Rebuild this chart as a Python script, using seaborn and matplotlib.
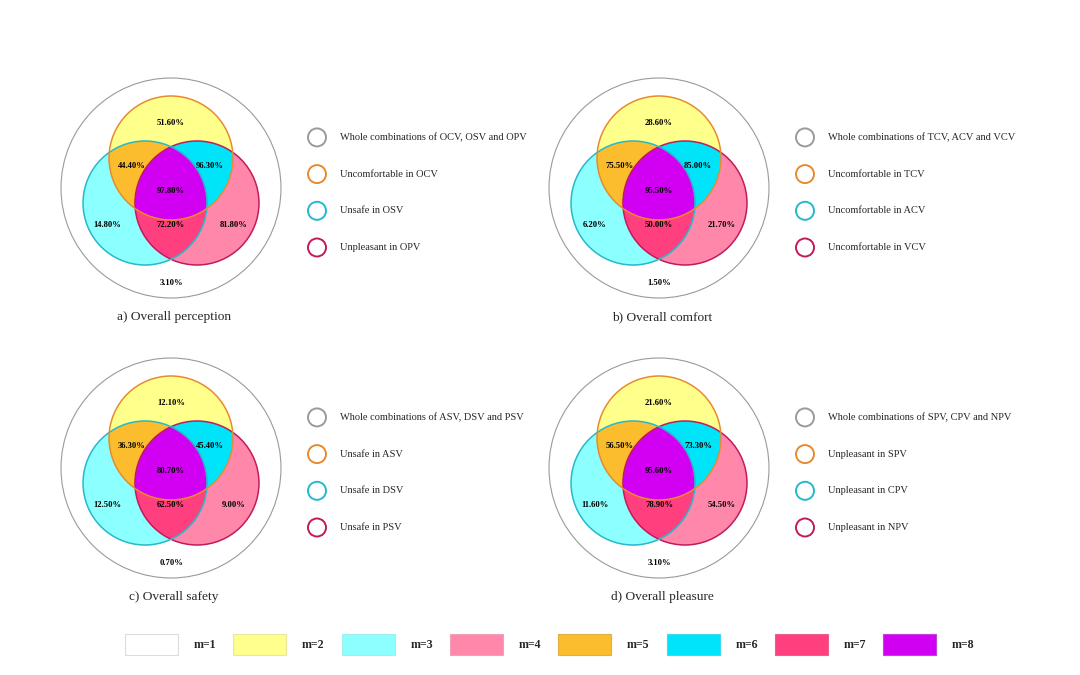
import numpy as np
import matplotlib
matplotlib.use('Agg')
import matplotlib.pyplot as plt
from matplotlib.patches import Circle, Polygon, Rectangle
import seaborn as sns

sns.set_theme(style="white")
plt.rcParams['font.family'] = ['Liberation Serif', 'DejaVu Serif']

# ---- data ----
panel_titles = ['a) Overall perception', 'b) Overall comfort',
                'c) Overall safety', 'd) Overall pleasure']

# region order: outside, top only, left only, right only,
#               top&left, top&right, left&right, all three
pct_a = [3.10, 51.60, 14.80, 81.80, 44.40, 96.30, 72.20, 97.80]
pct_b = [1.50, 28.60, 6.20, 21.70, 75.50, 85.00, 50.00, 95.50]
pct_c = [0.70, 12.10, 12.50, 9.00, 36.30, 45.40, 62.50, 80.70]
pct_d = [3.10, 21.60, 11.60, 54.50, 56.50, 73.30, 78.90, 95.60]
panel_values = [pct_a, pct_b, pct_c, pct_d]

legend_a = ['Whole combinations of OCV, OSV and OPV', 'Uncomfortable in OCV',
            'Unsafe in OSV', 'Unpleasant in OPV']
legend_b = ['Whole combinations of TCV, ACV and VCV', 'Uncomfortable in TCV',
            'Uncomfortable in ACV', 'Uncomfortable in VCV']
legend_c = ['Whole combinations of ASV, DSV and PSV', 'Unsafe in ASV',
            'Unsafe in DSV', 'Unsafe in PSV']
legend_d = ['Whole combinations of SPV, CPV and NPV', 'Unpleasant in SPV',
            'Unpleasant in CPV', 'Unpleasant in NPV']
panel_legends = [legend_a, legend_b, legend_c, legend_d]

m_labels = ['m=1', 'm=2', 'm=3', 'm=4', 'm=5', 'm=6', 'm=7', 'm=8']

# ---- styles ----
m_colors = sns.color_palette(['#FFFFFF', '#FFFF8C', '#8CFFFF', '#FF88AA',
                              '#FBBD2E', '#00E4FA', '#FF3F7E', '#D200F2'])
m_edges = ['#DDDDDD', '#E8E8A0', '#A0EEEE', '#F0A0B8',
           '#E0B040', '#40D8EE', '#E8608E', '#C040E0']
ring_colors = ['#9A9A9A', '#E88B2E', '#26B9CC', '#C21A5B']

panel_centers = [(171, 188), (659, 188), (171, 468), (659, 468)]
R_BIG, R_SMALL, D = 110, 62, 30
circle_offsets = {'top': (0, -D), 'left': (-D * np.sqrt(3) / 2, D / 2),
                  'right': (D * np.sqrt(3) / 2, D / 2)}
label_offsets = [(0, 95), (0, -65), (-64, 37), (63, 37),
                 (-39, -22), (39, -22), (0, 37), (0, 3)]


def intersection_polygon(centers, r, n=1440):
    t = np.linspace(0, 2 * np.pi, n, endpoint=False)
    pts = []
    for c in centers:
        p = np.column_stack([c[0] + r * np.cos(t), c[1] + r * np.sin(t)])
        keep = np.ones(len(p), dtype=bool)
        for o in centers:
            keep &= np.hypot(p[:, 0] - o[0], p[:, 1] - o[1]) <= r + 1e-6
        pts.append(p[keep])
    pts = np.vstack(pts)
    cen = pts.mean(axis=0)
    order = np.argsort(np.arctan2(pts[:, 1] - cen[1], pts[:, 0] - cen[0]))
    return pts[order]


fig = plt.figure(figsize=(10.8, 6.75), dpi=100)
ax = fig.add_axes([0, 0, 1, 1])
ax.set_xlim(0, 1080)
ax.set_ylim(675, 0)
ax.set_aspect('equal')
ax.axis('off')

for (cx, cy), title, vals, labels in zip(panel_centers, panel_titles,
                                         panel_values, panel_legends):
    c = {k: (cx + dx, cy + dy) for k, (dx, dy) in circle_offsets.items()}

    ax.add_patch(Circle((cx, cy), R_BIG, facecolor=m_colors[0],
                        edgecolor=ring_colors[0], lw=0.8, zorder=0))
    # single circles
    for k, col in zip(['left', 'right', 'top'], [m_colors[2], m_colors[3], m_colors[1]]):
        ax.add_patch(Circle(c[k], R_SMALL, facecolor=col, edgecolor='none', zorder=1))
    # pairwise overlaps
    for keys, col in [(('top', 'left'), m_colors[4]), (('top', 'right'), m_colors[5]),
                      (('left', 'right'), m_colors[6])]:
        poly = intersection_polygon([c[k] for k in keys], R_SMALL)
        ax.add_patch(Polygon(poly, closed=True, facecolor=col, edgecolor='none', zorder=2))
    # triple overlap
    poly = intersection_polygon([c['top'], c['left'], c['right']], R_SMALL)
    ax.add_patch(Polygon(poly, closed=True, facecolor=m_colors[7], edgecolor='none', zorder=3))
    # outlines
    for k, col in zip(['right', 'left', 'top'], [ring_colors[3], ring_colors[2], ring_colors[1]]):
        ax.add_patch(Circle(c[k], R_SMALL, facecolor='none', edgecolor=col, lw=1.1, zorder=4))

    for v, (dx, dy) in zip(vals, label_offsets):
        ax.text(cx + dx, cy + dy, f'{v:.2f}%', ha='center', va='center',
                fontsize=6.2, fontweight='bold', color='black', zorder=5)

    ax.text(cx + 3, cy + 129, title, ha='center', va='center', fontsize=9.6)

    for i, (lab, col) in enumerate(zip(labels, ring_colors)):
        ly = cy - 50.6 + i * 36.7
        ax.add_patch(Circle((cx + 146, ly), 9, facecolor='white', edgecolor=col, lw=1.4))
        ax.text(cx + 169, ly, lab, ha='left', va='center', fontsize=7.5)

# bottom colour key
for i, (lab, col, ec) in enumerate(zip(m_labels, m_colors, m_edges)):
    bx = 125 + i * 108.3
    ax.add_patch(Rectangle((bx, 634), 53, 20.5, facecolor=col, edgecolor=ec, lw=0.8))
    ax.text(bx + 80, 644.5, lab, ha='center', va='center', fontsize=8.6, fontweight='bold')

plt.savefig('out.png', dpi=100)
plt.close()
